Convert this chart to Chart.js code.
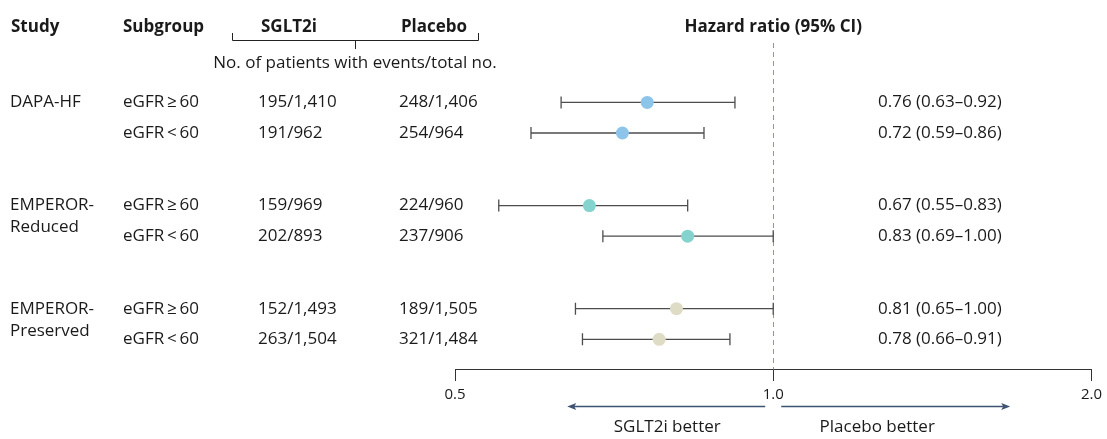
<!DOCTYPE html>
<html>
<head>
<meta charset="utf-8">
<script src="https://cdn.jsdelivr.net/npm/chart.js@4.4.1/dist/chart.umd.min.js"></script>
<style>
  html, body { margin: 0; padding: 0; background: #fff; }
  #wrap { width: 1107px; height: 439px; position: relative; }
</style>
</head>
<body>
<div id="wrap"><canvas id="c"></canvas></div>
<script>
// ---- data ----
const studies = [['DAPA-HF'], ['EMPEROR-', 'Reduced'], ['EMPEROR-', 'Preserved']];
const subgroups = ['eGFR\u2009\u2265\u200960', 'eGFR\u2009<\u200960'];
const rowStudy = [0, 0, 1, 1, 2, 2];
const rowSub = [0, 1, 0, 1, 0, 1];
const sglt2iEvents = ['195/1,410', '191/962', '159/969', '202/893', '152/1,493', '263/1,504'];
const placeboEvents = ['248/1,406', '254/964', '224/960', '237/906', '189/1,505', '321/1,484'];
const hr = [0.76, 0.72, 0.67, 0.83, 0.81, 0.78];
const ciLow = [0.63, 0.59, 0.55, 0.69, 0.65, 0.66];
const ciHigh = [0.92, 0.86, 0.83, 1.00, 1.00, 0.91];
const xTicks = [0.5, 1, 2];
const studyColors = ['#8DC4EA', '#84D3CE', '#DFDCC5'];

// ---- layout helpers ----
const GROUP_STEP = 3.37;
const rowY = rowStudy.map((s, i) => s * GROUP_STEP + rowSub[i]);
const FONT = '"Open Sans", "Noto Sans", sans-serif';
const TXT = '#1a1a1a';

const datasets = [];
datasets.push({
  type: 'scatter',
  data: hr.map((v, i) => ({ x: v, y: rowY[i] })),
  backgroundColor: rowStudy.map(s => studyColors[s]),
  borderWidth: 0,
  pointRadius: 6.5,
  order: 0
});
hr.forEach((v, i) => {
  datasets.push({
    type: 'scatter',
    showLine: true,
    data: [{ x: ciLow[i], y: rowY[i] }, { x: ciHigh[i], y: rowY[i] }],
    borderColor: '#4d4d4d',
    borderWidth: 1.3,
    pointStyle: 'line',
    rotation: 90,
    pointRadius: 6,
    pointBorderColor: '#4d4d4d',
    pointBorderWidth: 1.3,
    order: 1
  });
});

function fmt(v) { return v.toFixed(2); }

const forestPlugin = {
  id: 'forest',
  beforeDatasetsDraw(chart) {
    const { ctx, chartArea, scales } = chart;
    const x1 = Math.round(scales.x.getPixelForValue(1)) + 0.5;
    ctx.save();
    ctx.strokeStyle = '#8e96aa';
    ctx.lineWidth = 1;
    ctx.setLineDash([5, 4]);
    ctx.beginPath();
    ctx.moveTo(x1, chartArea.top);
    ctx.lineTo(x1, chartArea.bottom);
    ctx.stroke();
    ctx.restore();
  },
  afterDraw(chart) {
    const { ctx, chartArea, scales } = chart;
    const xs = scales.x, ys = scales.y;
    const x1 = xs.getPixelForValue(1);
    ctx.save();
    ctx.fillStyle = TXT;
    ctx.textBaseline = 'middle';

    // headers
    ctx.font = 'bold 17px ' + FONT;
    ctx.textAlign = 'left';
    ctx.fillText('Study', 11, 27);
    ctx.fillText('Subgroup', 123, 27);
    ctx.textAlign = 'center';
    ctx.fillText('SGLT2i', 289, 27);
    ctx.fillText('Placebo', 434, 27);
    ctx.fillText('Hazard ratio (95% CI)', x1, 27);

    // bracket
    ctx.strokeStyle = '#222';
    ctx.lineWidth = 1;
    ctx.beginPath();
    ctx.moveTo(232.5, 33); ctx.lineTo(232.5, 40.5); ctx.lineTo(478.5, 40.5); ctx.lineTo(478.5, 33);
    ctx.moveTo(355.5, 40.5); ctx.lineTo(355.5, 49);
    ctx.stroke();

    ctx.font = '17px ' + FONT;
    ctx.fillText('No. of patients with events/total no.', 355, 63);

    // rows
    ctx.textAlign = 'left';
    rowY.forEach((yv, i) => {
      const y = ys.getPixelForValue(yv);
      if (rowSub[i] === 0) {
        studies[rowStudy[i]].forEach((line, k) => ctx.fillText(line, 10, y + k * 22));
      }
      ctx.fillText(subgroups[rowSub[i]], 123, y);
      ctx.fillText(sglt2iEvents[i], 258, y);
      ctx.fillText(placeboEvents[i], 399, y);
      ctx.fillText(fmt(hr[i]) + ' (' + fmt(ciLow[i]) + '\u2013' + fmt(ciHigh[i]) + ')', 878, y);
    });

    // direction arrows
    const ay = chartArea.bottom + 37.5;
    ctx.strokeStyle = '#3f5374';
    ctx.fillStyle = '#3f5374';
    ctx.lineWidth = 1.3;
    const lx0 = x1 - 8, lx1 = x1 - 206;
    const rx0 = x1 + 8, rx1 = x1 + 237;
    ctx.beginPath();
    ctx.moveTo(lx0, ay); ctx.lineTo(lx1 + 6, ay);
    ctx.moveTo(rx0, ay); ctx.lineTo(rx1 - 6, ay);
    ctx.stroke();
    ctx.beginPath();
    ctx.moveTo(lx1, ay); ctx.lineTo(lx1 + 9, ay - 3.5); ctx.lineTo(lx1 + 7, ay); ctx.lineTo(lx1 + 9, ay + 3.5); ctx.closePath();
    ctx.moveTo(rx1, ay); ctx.lineTo(rx1 - 9, ay - 3.5); ctx.lineTo(rx1 - 7, ay); ctx.lineTo(rx1 - 9, ay + 3.5); ctx.closePath();
    ctx.fill();

    ctx.fillStyle = TXT;
    ctx.font = '17px ' + FONT;
    ctx.textAlign = 'center';
    ctx.fillText('SGLT2i better', x1 - 106, chartArea.bottom + 58);
    ctx.fillText('Placebo better', x1 + 104, chartArea.bottom + 58);
    ctx.restore();
  }
};

new Chart(document.getElementById('c'), {
  data: { datasets },
  plugins: [forestPlugin],
  options: {
    responsive: true,
    maintainAspectRatio: false,
    animation: false,
    events: [],
    layout: { padding: { left: 455, right: 12, top: 43, bottom: 30 } },
    plugins: { legend: { display: false }, tooltip: { enabled: false } },
    scales: {
      x: {
        type: 'logarithmic',
        position: 'bottom',
        min: 0.5,
        max: 2,
        afterBuildTicks: axis => { axis.ticks = xTicks.map(v => ({ value: v })); },
        ticks: {
          autoSkip: false,
          maxRotation: 0,
          padding: 5,
          color: TXT,
          font: { family: FONT, size: 15 },
          callback: v => Number(v).toFixed(1)
        },
        grid: { drawOnChartArea: false, drawTicks: true, tickLength: 12, color: '#333', lineWidth: 1 },
        border: { display: true, color: '#333', width: 1 }
      },
      y: {
        type: 'linear',
        display: false,
        reverse: true,
        min: -1.94,
        max: 2 * GROUP_STEP + 1 + 0.97
      }
    }
  }
});
</script>
</body>
</html>
